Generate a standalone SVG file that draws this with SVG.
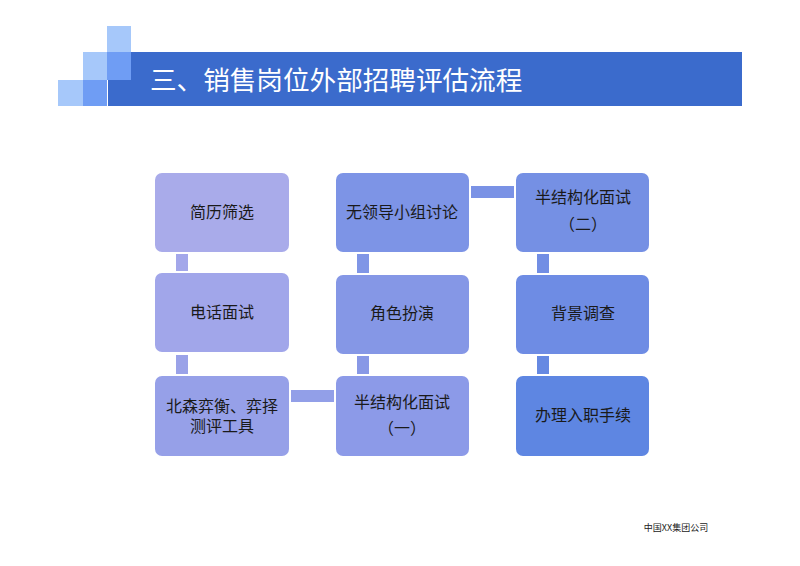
<svg xmlns="http://www.w3.org/2000/svg" width="800" height="566" viewBox="0 0 800 566">
<style>
.n text{font-family:"Liberation Serif","Noto Sans CJK SC",serif;font-size:16px;fill:#1a1a1a;text-anchor:middle}
.c rect{stroke:none}
</style>
<rect width="800" height="566" fill="#fff"/>
<g id="header">
<rect x="108" y="52" width="634" height="54" fill="#3b6bcc"/>
<rect x="107" y="26" width="24" height="26" fill="#a6c8fa"/>
<rect x="83" y="52" width="24" height="28" fill="#a6c8fa"/>
<rect x="107" y="52" width="24" height="28" fill="#6f9df4"/>
<rect x="58" y="80" width="25" height="26" fill="#a6c8fa"/>
<rect x="83" y="80" width="24" height="26" fill="#6f9df4"/>
<text x="150" y="90" font-family="Noto Sans CJK SC,sans-serif" font-size="26.6" fill="#fff">三、销售岗位外部招聘评估流程</text>
</g>
<g id="connectors" class="c">
<rect x="176" y="254" width="12" height="17" fill="#a3a7ea"/>
<rect x="176" y="355" width="12" height="19" fill="#9aa2e8"/>
<rect x="357" y="254" width="12" height="19" fill="#8096e6"/>
<rect x="357" y="356" width="12" height="18" fill="#8898e6"/>
<rect x="537" y="254" width="12" height="19" fill="#728ee4"/>
<rect x="537" y="356" width="12" height="18" fill="#6689e2"/>
<rect x="291" y="390" width="43" height="12" fill="#929fe8"/>
<rect x="471" y="186" width="43" height="12" fill="#7a92e5"/>
</g>
<g id="n1" class="n"><rect x="155" y="173" width="134" height="79" rx="7" fill="#a9abea"/><text x="222" y="218">简历筛选</text></g>
<g id="n2" class="n"><rect x="155" y="273" width="134" height="79" rx="7" fill="#a1a6ea"/><text x="222" y="318">电话面试</text></g>
<g id="n3" class="n"><rect x="155" y="376" width="134" height="80" rx="7" fill="#96a0e8"/><text x="222" y="412">北森弈衡、弈择</text><text x="222" y="432">测评工具</text></g>
<g id="n4" class="n"><rect x="336" y="376" width="133" height="80" rx="7" fill="#8c9ae8"/><text x="402" y="408">半结构化面试</text><text x="402" y="434">（一）</text></g>
<g id="n5" class="n"><rect x="336" y="275" width="133" height="79" rx="7" fill="#8597e6"/><text x="402" y="319">角色扮演</text></g>
<g id="n6" class="n"><rect x="336" y="173" width="133" height="79" rx="7" fill="#7d94e6"/><text x="402" y="218">无领导小组讨论</text></g>
<g id="n7" class="n"><rect x="516" y="173" width="133" height="79" rx="7" fill="#7590e4"/><text x="583" y="203">半结构化面试</text><text x="583" y="230">（二）</text></g>
<g id="n8" class="n"><rect x="516" y="275" width="133" height="79" rx="7" fill="#6e8ce4"/><text x="583" y="319">背景调查</text></g>
<g id="n9" class="n"><rect x="516" y="376" width="133" height="80" rx="7" fill="#5e86e2"/><text x="583" y="421">办理入职手续</text></g>
<text x="676" y="531" font-family="Noto Sans CJK SC,sans-serif" font-size="9" fill="#222" text-anchor="middle">中国XX集团公司</text>
</svg>
